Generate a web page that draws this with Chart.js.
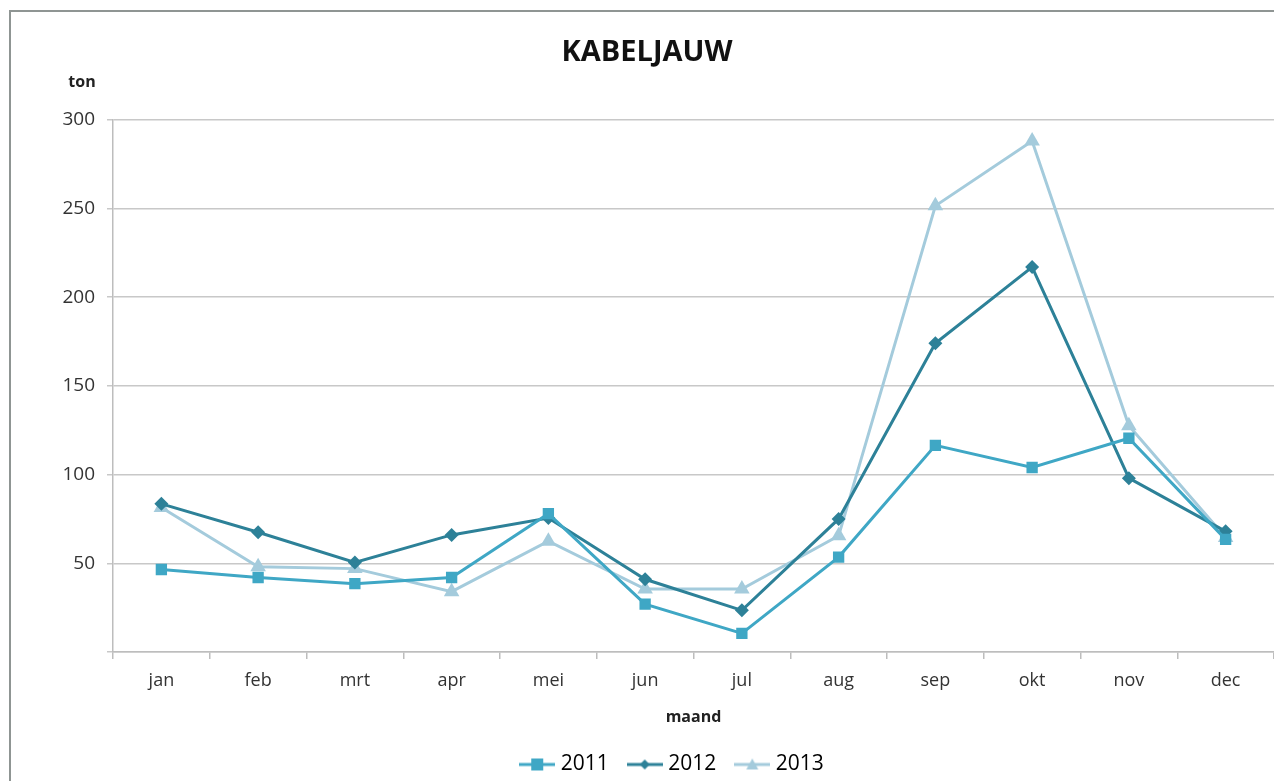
<!DOCTYPE html>
<html>
<head>
<meta charset="utf-8">
<script src="https://cdn.jsdelivr.net/npm/chart.js@4"></script>
<style>
  html, body { margin: 0; padding: 0; background: #fff; overflow: hidden; }
  #wrap { width: 1274px; height: 781px; position: relative; }
</style>
</head>
<body>
<div id="wrap"><canvas id="chart" width="1274" height="781"></canvas></div>
<script>
// maanden op de x-as
const months = ['jan', 'feb', 'mrt', 'apr', 'mei', 'jun', 'jul', 'aug', 'sep', 'okt', 'nov', 'dec'];

// aanvoer kabeljauw in ton
const data2011 = [46.5, 42, 38.5, 42, 78, 27, 10.5, 53.5, 116.5, 104, 120.5, 63.5];
const data2012 = [83.5, 67.5, 50.5, 66, 75.5, 41, 23.5, 75, 174, 217, 98, 68];
const data2013 = [81.5, 48, 47, 34, 62.5, 35.5, 35.5, 65.5, 251.5, 288, 127.5, 64.5];

const yTicks = [0, 50, 100, 150, 200, 250, 300];

const col2011 = '#3fa7c5';
const col2012 = '#2d8198';
const col2013 = '#a4cbdc';

const FONT = "'Open Sans', 'Liberation Sans', sans-serif";

// small canvas for the legend: line with marker in the middle
function legendMarker(color, style) {
    const c = document.createElement('canvas');
    c.width = 36;
    c.height = 16;
    const g = c.getContext('2d');
    g.strokeStyle = color;
    g.fillStyle = color;
    g.lineWidth = 3;
    g.beginPath();
    g.moveTo(0, 8);
    g.lineTo(36, 8);
    g.stroke();
    g.beginPath();
    if (style === 'rect') {
        g.rect(12, 2, 12, 12);
    } else if (style === 'rectRot') {
        g.moveTo(18, 3); g.lineTo(23, 8); g.lineTo(18, 13); g.lineTo(13, 8);
    } else {
        g.moveTo(18, 2); g.lineTo(24, 13); g.lineTo(12, 13);
    }
    g.closePath();
    g.fill();
    return c;
}

const markers = [
    legendMarker(col2011, 'rect'),
    legendMarker(col2012, 'rectRot'),
    legendMarker(col2013, 'triangle')
];

// frame around the chart and the 'ton' unit label
const extrasPlugin = {
    id: 'extras',
    afterLayout(chart) {
        // the original frame runs past the right edge, so title and legend sit a bit right of centre
        chart.legend.left += 32;
        chart.legend.right += 32;
        chart.titleBlock.left += 5;
        chart.titleBlock.right += 5;
    },
    afterDraw(chart) {
        const ctx = chart.ctx;
        ctx.save();
        ctx.strokeStyle = '#8f9593';
        ctx.lineWidth = 2;
        ctx.strokeRect(10, 11, 1300, 820);
        ctx.fillStyle = '#222';
        ctx.font = 'bold 16px ' + FONT;
        ctx.textAlign = 'center';
        ctx.textBaseline = 'middle';
        ctx.fillText('ton', 82, 82);
        ctx.restore();
    }
};

function makeDataset(label, values, color, style, radius) {
    return {
        label: label,
        data: values,
        borderColor: color,
        backgroundColor: color,
        borderWidth: 3,
        pointStyle: style,
        pointRadius: radius,
        pointHoverRadius: radius,
        pointBorderWidth: 0,
        tension: 0
    };
}

const ctx = document.getElementById('chart').getContext('2d');
const chart = new Chart(ctx, {
    type: 'line',
    data: {
        labels: months,
        datasets: [
            makeDataset('2011', data2011, col2011, 'rect', 8),
            makeDataset('2012', data2012, col2012, 'rectRot', 7),
            makeDataset('2013', data2013, col2013, 'triangle', 9)
        ]
    },
    options: {
        responsive: false,
        animation: false,
        layout: { autoPadding: false, padding: { left: 10, top: 0, right: 0, bottom: -4 } },
        plugins: {
            title: {
                display: true,
                text: 'KABELJAUW',
                color: '#111',
                font: { family: FONT, size: 29, weight: 'bold' },
                padding: { top: 35, bottom: 50 }
            },
            legend: {
                position: 'bottom',
                labels: {
                    usePointStyle: true,
                    pointStyleWidth: 26,
                    boxHeight: 16,
                    padding: 23,
                    color: '#333',
                    font: { family: FONT, size: 21 },
                    generateLabels(chart) {
                        return chart.data.datasets.map((ds, i) => ({
                            text: ds.label,
                            pointStyle: markers[i],
                            fillStyle: ds.borderColor,
                            strokeStyle: ds.borderColor,
                            lineWidth: 0,
                            datasetIndex: i,
                            hidden: false
                        }));
                    }
                }
            },
            tooltip: { enabled: false }
        },
        scales: {
            x: {
                offset: true,
                afterFit(scale) {
                    scale.height = 79;
                },
                grid: { offset: true, drawOnChartArea: false, tickLength: 7, color: '#bdbdbd', lineWidth: 1.5 },
                border: { color: '#bdbdbd', width: 1.5 },
                ticks: { color: '#333', padding: 11, font: { family: FONT, size: 18 } },
                title: {
                    display: true,
                    text: 'maand',
                    color: '#222',
                    font: { family: FONT, size: 16, weight: 'bold' },
                    padding: { top: 4, bottom: 4 }
                }
            },
            y: {
                min: 0,
                max: 300,
                afterBuildTicks(scale) {
                    scale.ticks = yTicks.map(v => ({ value: v }));
                },
                afterFit(scale) {
                    scale.width = 103;
                },
                grid: { color: '#c8c8c8', lineWidth: 1.5, tickLength: 6 },
                border: { color: '#bdbdbd', width: 1.5 },
                ticks: {
                    color: '#333',
                    padding: 12,
                    font: { family: FONT, size: 19 },
                    callback: v => (v === 0 ? '' : v)
                }
            }
        }
    },
    plugins: [extrasPlugin]
});
</script>
</body>
</html>
